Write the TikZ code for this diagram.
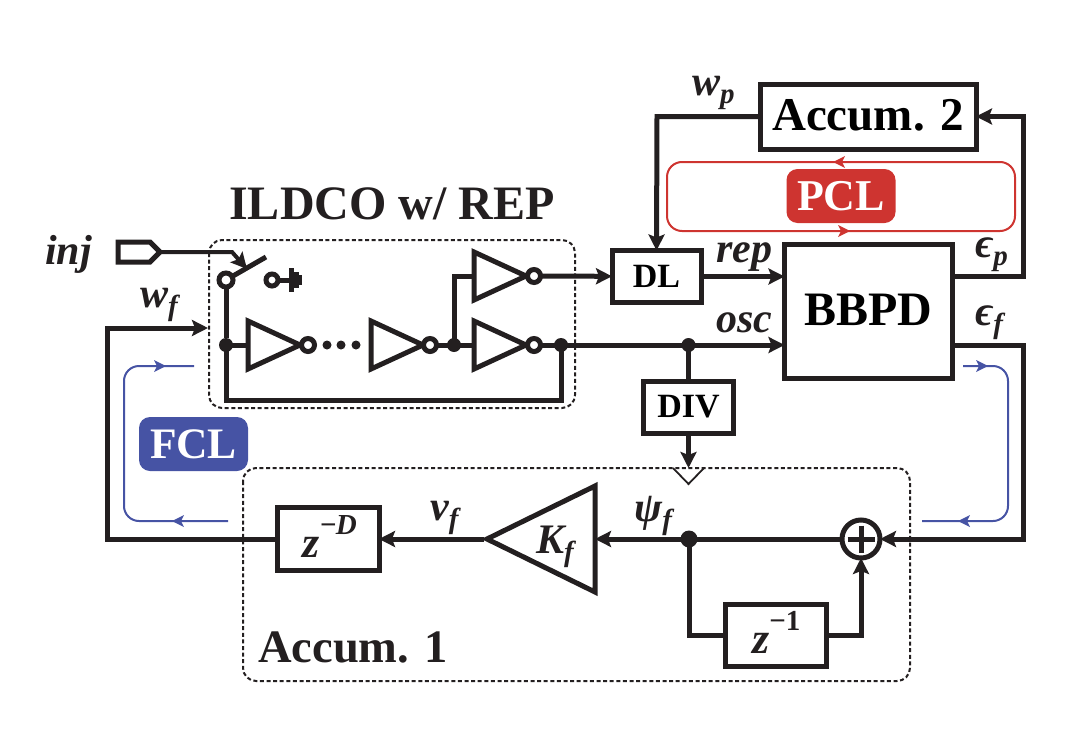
\documentclass[tikz,border=0pt]{standalone}
\usepackage{fontspec}
\setmainfont{Liberation Serif}
\usetikzlibrary{arrows.meta,calc}
\definecolor{fclblue}{HTML}{4653A4}
\definecolor{pclred}{HTML}{CE3430}
\definecolor{ink}{HTML}{231F20}
\newcommand{\fs}[1]{\fontsize{#1}{#1}\selectfont}
\newcommand{\subs}[1]{\raisebox{-8pt}{\fs{29}#1}}
\newcommand{\sups}[1]{\raisebox{22.5pt}{\fs{29}#1}}
\tikzset{
  wire/.style={line width=5pt,draw=ink,line join=miter},
  arr/.style={wire,-{Stealth[length=16pt,width=16pt,inset=3pt]}},
  blockbox/.style={draw=ink,line width=5pt,fill=white,inner sep=0pt,outer sep=0pt,font=\bfseries},
  dashbox/.style={draw=ink,line width=2pt,dash pattern=on 4pt off 2.6pt,rounded corners=13pt},
  bubble/.style={circle,draw=ink,line width=5pt,fill=white,minimum size=13pt,inner sep=0pt,outer sep=0pt},
  dotj/.style={circle,fill=ink,minimum size=14pt,inner sep=0pt,outer sep=0pt},
  smalldot/.style={circle,fill=ink,minimum size=9pt,inner sep=0pt},
  lab/.style={text=ink,inner sep=0pt,font=\bfseries\itshape\fs{42}},
  title/.style={text=ink,inner sep=0pt,font=\bfseries\fs{46.5}},
  tag/.style={rounded corners=11pt,text=white,inner sep=0pt,minimum width=109pt,minimum height=54pt},
  bluel/.style={draw=fclblue,line width=2pt,rounded corners=15pt},
  redl/.style={draw=pclred,line width=2pt},
  tipb/.style={fill=fclblue,draw=none},
  tipr/.style={fill=pclred,draw=none},
}
\begin{document}
\begin{tikzpicture}[x=1pt,y=-1pt]
\useasboundingbox (0,0) rectangle (1087,736);

% dashed frames
\draw[dashbox] (209,240) rectangle (575,408);
\draw[dashbox] (243,468) rectangle (910,681);

% main blocks
\node[blockbox,minimum width=216pt,minimum height=65pt,font=\bfseries\fs{47},text depth=3pt] (acc2) at (868,116.5) {Accum. 2};
\node[blockbox,minimum width=168pt,minimum height=134pt,font=\bfseries\fs{48},text depth=4pt] (bbpd) at (868.5,311.5) {BBPD};
\node[blockbox,minimum width=89pt,minimum height=52pt,font=\bfseries\fs{34}] (dl) at (656.5,276.5) {DL};
\node[blockbox,minimum width=90pt,minimum height=52pt,font=\bfseries\fs{34}] (div) at (688.5,407) {DIV};
\node[blockbox,minimum width=102pt,minimum height=63pt] (zd) at (328,539) {};
\node[blockbox,minimum width=101pt,minimum height=62pt] (z1) at (775.5,635) {};
\node[lab,anchor=base west,font=\bfseries\itshape\fs{44}] (zdt) at (302,557) {z\sups{−}\kern-1pt\sups{D}};
\node[lab,anchor=base west,font=\bfseries\itshape\fs{44}] (z1t) at (752,653) {z\sups{\textup{−1}}};

% ILDCO inverters
\draw[wire] (248,321) -- (300,345) -- (248,369) -- cycle;
\draw[wire] (371,321) -- (423,345) -- (371,369) -- cycle;
\draw[wire] (474,321) -- (526,345) -- (474,369) -- cycle;
\draw[wire] (474,252) -- (526,276) -- (474,300) -- cycle;
\coordinate (i1) at (248,345);
\coordinate (i2) at (371,345);
\coordinate (i3) at (474,345);
\coordinate (i4) at (474,276);
\node[bubble] (b1) at (308,345) {};
\node[bubble] (b2) at (430,345) {};
\node[bubble] (b3) at (534,345) {};
\node[bubble] (b4) at (534,276) {};
\node[smalldot] (d1) at (327,345) {};
\node[smalldot] (d2) at (341,345) {};
\node[smalldot] (d3) at (356,345) {};
\node[dotj] (j1) at (226,345) {};
\node[dotj] (j2) at (454,345) {};
\node[dotj] (j3) at (561,345) {};
\node[dotj] (j4) at (688.5,345) {};
\node[dotj,minimum size=17pt] (j5) at (689,539) {};

% switch
\node[bubble,minimum size=14pt] (sw) at (226,280) {};
\node[bubble,minimum size=12pt] (gc) at (272,280) {};
\coordinate (swend) at (266,257);
\coordinate (g0) at (291,280);
\draw[wire] (sw) -- (swend);
\draw[wire] (gc) -- (g0);
\draw[wire] (291,268) -- (291,292);
\draw[wire] (296,272) -- (296,288);
\draw[wire,line width=3.4pt] (300,275) -- (300,285);
\draw[wire] (sw) -- (j1);

% inj port
\draw[wire] (118,242) -- (150,242) -- (160,252) -- (150,262) -- (118,262) -- cycle;
\coordinate (port) at (161,252);
\coordinate (sk) at (232,252);
\coordinate (skt) at (247,269);
\draw[wire,line width=4pt,-{Stealth[length=16pt,width=16pt,inset=3pt]}] (port) -- (sk) -- (skt);

% ILDCO wires
\draw[wire] (j1.center) -- (i1);
\draw[wire] (b2) -- (i3);
\draw[wire] (j2.center) |- (i4);
\draw[wire] (b3) -- (j3.center);
\draw[wire] (j3.center) -- (561,400) -- (226,400) -- (j1.center);
\draw[arr] (b4) -- (dl);
\draw[arr] (j3.center) -- (bbpd.west |- j3);
\draw[wire] (j4.center) -- (j4 |- div.north);
\coordinate (clk) at (688.5,468);
\draw[arr] (div) -- (clk);
\draw[wire,line width=1.8pt] (673,468) -- (688.5,484) -- (704,468);

% PCL loop
\draw[arr] (dl.east) -- (dl.east -| bbpd.west);
\draw[arr] (dl.east -| bbpd.east) -- (1023,276.5) -- (1023,116.5) -- (acc2.east);
\draw[arr] (acc2.west) -- (657,116.5) -- (dl.north);

% FCL path
\node[circle,draw=ink,line width=5pt,fill=white,minimum size=38pt,inner sep=0pt,outer sep=0pt] (sum) at (861,539) {};
\draw[wire] ($(sum.center)+(-13.5,0)$) -- ($(sum.center)+(13.5,0)$);
\draw[wire] ($(sum.center)+(0,-13.5)$) -- ($(sum.center)+(0,13.5)$);
\draw[arr] (bbpd.east |- j4) -- (1023,345) -- (1023,539) -- (sum.east);
\draw[arr] (j5.center) -- (595,539);
\draw[wire] (sum.west) -- (j5.center);
\draw[wire] (j5.center) |- (z1.west);
\draw[arr] (z1.east) -| (sum.south);
\draw[wire] (487,539) -- (595,486) -- (595,592) -- cycle;
\coordinate (ktip) at (484,539);
\draw[arr] (ktip) -- (zd.east);
\draw[arr] (zd.west) -- (107,539) -- (107,328) -- (208,328);

% loops
\draw[redl,rounded corners=15pt] (667,162) rectangle (1015,231);
\fill[tipr] (833,162) -- (845,156) -- (842,162) -- (845,168) -- cycle;
\fill[tipr] (850,231) -- (838,225) -- (841,231) -- (838,237) -- cycle;
\node[tag,fill=pclred,font=\bfseries\fs{44}] (pcl) at (841,196) {PCL};

\draw[bluel] (228,521) -- (124,521) -- (124,366) -- (194,366);
\fill[tipb] (172,521) -- (184,515) -- (181,521) -- (184,527) -- cycle;
\fill[tipb] (166,366) -- (154,360) -- (157,366) -- (154,372) -- cycle;
\draw[bluel] (963,366) -- (1008,366) -- (1008,521) -- (922,521);
\fill[tipb] (988,366) -- (976,360) -- (979,366) -- (976,372) -- cycle;
\fill[tipb] (958,521) -- (970,515) -- (967,521) -- (970,527) -- cycle;
\node[tag,fill=fclblue,font=\bfseries\fs{43.5}] (fcl) at (193.5,444) {FCL};

% text
\node[title,font=\bfseries\fs{48}] (tild) at (392,204) {ILDCO w/ REP};
\node[title,anchor=base west] (tacc) at (258,662) {Accum. 1};
\node[lab,anchor=base west] (tinj) at (45,264) {inj};
\node[lab,anchor=base west] (twf) at (140,307) {w\subs{f}};
\node[lab,anchor=base west] (twp) at (692,95) {w\subs{p}};
\node[lab,anchor=base west] (trep) at (716,262) {rep};
\node[lab,anchor=base west] (tosc) at (716,332) {osc};
\node[lab,anchor=base west] (tep) at (975,257) {ϵ\subs{p}};
\node[lab,anchor=base west] (tef) at (975,325) {ϵ\subs{f}};
\node[lab,anchor=base west] (tvf) at (430,520) {v\subs{f}};
\node[lab,anchor=base west] (tpf) at (634,521) {ψ\subs{f}};
\node[lab,anchor=base west] (tkf) at (536,553) {K\subs{f}};
\end{tikzpicture}
\end{document}
